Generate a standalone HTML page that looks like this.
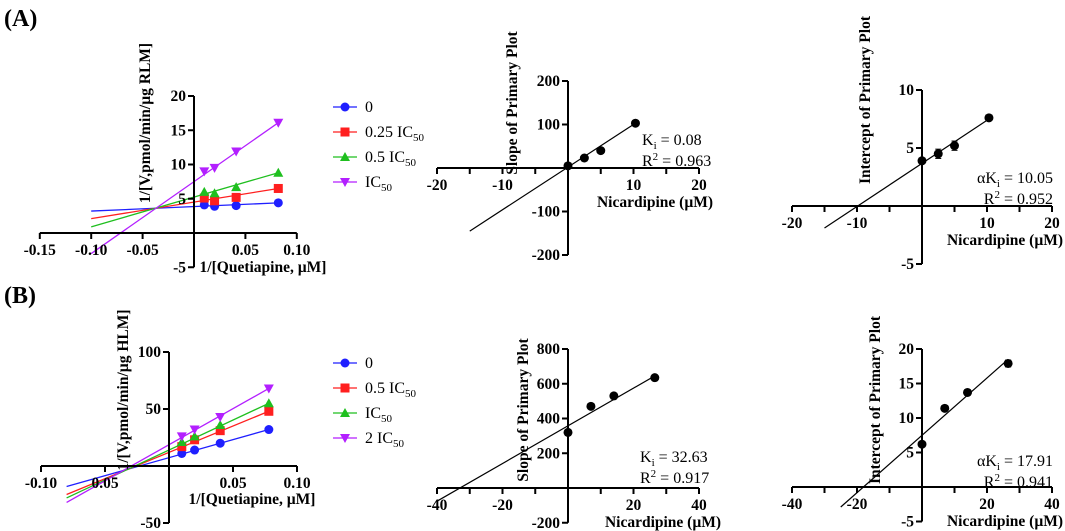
<!DOCTYPE html>
<html><head><meta charset="utf-8"><style>
body{margin:0;background:#fff;}
svg{display:block;font-family:"Liberation Serif",serif;}
</style></head><body>
<svg id="fig" width="1065" height="531" viewBox="0 0 1065 531">
<text x="4" y="26" font-size="24" font-weight="bold">(A)</text>
<text x="4" y="303" font-size="24" font-weight="bold">(B)</text>
</svg>
<script>
// Panel A1 data
const a1X = [0.01, 0.02, 0.041, 0.082];
const a1Blue = [4.1, 3.9, 4.0, 4.4];
const a1Red = [5.1, 4.7, 5.2, 6.5];
const a1Green = [6.0, 5.8, 6.7, 8.8];
const a1Purple = [9.0, 9.5, 11.9, 16.1];
const a1LineStartX = -0.1;
const a1LineStartY = [3.2, 2.1, 0.9, -3.0];
const a1Legend = ["0", "0.25 IC", "0.5 IC", "IC"];
const a1XTicks = [-0.15, -0.10, -0.05, 0.05, 0.10];
const a1XTickLabels = ["-0.15", "-0.10", "-0.05", "0.05", "0.10"];
const a1YTicks = [-5, 5, 10, 15, 20];
// Panel B1 data
const b1X = [0.01, 0.02, 0.04, 0.078];
const b1Blue = [11, 14, 20, 32];
const b1Red = [17, 23, 31, 48];
const b1Green = [21, 26, 36, 55];
const b1Purple = [26, 32, 43, 68];
const b1LineStartX = -0.08;
const b1LineStartY = [-18, -25, -28, -32];
const b1Legend = ["0", "0.5 IC", "IC", "2 IC"];
const b1XTicks = [-0.10, -0.05, 0.05, 0.10];
const b1XTickLabels = ["-0.10", "0.05", "0.05", "0.10"];
const b1YTicks = [-50, 50, 100];
// Secondary plots
const a2X = [0, 2.5, 5, 10.3];
const a2Y = [5, 23, 40, 103];
const a2Line = [-15, -145, 10.3, 103];
const a3X = [0, 2.5, 5, 10.3];
const a3Y = [3.9, 4.5, 5.2, 7.6];
const a3Err = [0, 0.4, 0.4, 0];
const a3Line = [-15, -1.9, 10.3, 7.5];
const b2X = [0, 7, 14, 26.5];
const b2Y = [320, 470, 530, 635];
const b2Line = [-40, -76, 26.5, 645];
const b3X = [0, 7, 14, 26.5];
const b3Y = [6.2, 11.4, 13.7, 17.9];
const b3Err = [0, 0, 0, 0.5];
const b3Line = [-25, -2.9, 26.5, 18.5];

const svg = document.getElementById('fig');
const NS = 'http://www.w3.org/2000/svg';
function mk(tag, attrs, parent){const e=document.createElementNS(NS,tag);for(const k in attrs)e.setAttribute(k,attrs[k]);(parent||svg).appendChild(e);return e;}
function scale(d0,d1,p0,p1){return v=>p0+(v-d0)*(p1-p0)/(d1-d0);}

function axes(g,sx,sy,xmin,xmax,xstep,ymin,ymax,ystep,xLab,xLabVals,yLab,yLabVals){
  const ax=mk('line',{x1:sx(xmin),x2:sx(xmax),y1:sy(0),y2:sy(0),stroke:'#000','stroke-width':2},g);
  
  const ay=mk('line',{x1:sx(0),x2:sx(0),y1:sy(ymin),y2:sy(ymax),stroke:'#000','stroke-width':2},g);
  
  for(let v=xmin;v<=xmax+1e-9;v+=xstep){mk('line',{x1:sx(v),x2:sx(v),y1:sy(0),y2:sy(0)+6,stroke:'#000','stroke-width':2},g);}
  for(let v=ymin;v<=ymax+1e-9;v+=ystep){mk('line',{x1:sx(0)-6,x2:sx(0),y1:sy(v),y2:sy(v),stroke:'#000','stroke-width':2},g);}
  xLab.forEach((v,i)=>{const t=mk('text',{x:sx(v),y:sy(0)+22,'font-size':15.5,'font-weight':'bold','text-anchor':'middle'},g);t.textContent=xLabVals[i];});
  yLab.forEach((v,i)=>{const t=mk('text',{x:sx(0)-8,y:sy(v)+5,'font-size':15.5,'font-weight':'bold','text-anchor':'end'},g);t.textContent=yLabVals[i];});
}
function marker(g,type,x,y,c){
  if(type==0)return mk('circle',{cx:x,cy:y,r:4.5,fill:c},g);
  if(type==1)return mk('rect',{x:x-4.5,y:y-4.5,width:9,height:9,fill:c},g);
  if(type==2)return mk('polygon',{points:`${x},${y-5} ${x-5},${y+4} ${x+5},${y+4}`,fill:c},g);
  return mk('polygon',{points:`${x},${y+5} ${x-5},${y-4} ${x+5},${y-4}`,fill:c},g);
}
function title(g,text,x,y,rot){const t=mk('text',{x:x,y:y,'font-size':15.5,'font-weight':'bold','text-anchor':'middle'},g);if(rot)t.setAttribute('transform',`rotate(-90 ${x} ${y})`);t.innerHTML=text;return t;}
const colors=['#1f1fff','#ff1f1f','#1fbf1f','#b31fff'];

function primary(name,X,series,lsx,lsy,sx,sy,legend,ly){
  const g=mk('g',{});
  series.forEach((s,i)=>{
    const last=X.length-1;
    const ln=mk('line',{x1:sx(lsx),y1:sy(lsy[i]),x2:sx(X[last]),y2:sy(s[last]),stroke:colors[i],'stroke-width':1.3},g);
    
    X.forEach((x,j)=>{const m=marker(g,i,sx(x),sy(s[j]),colors[i]);});
    const lg=mk('g',{},g);
    const y=ly+i*25;
    mk('line',{x1:333,x2:357,y1:y,y2:y,stroke:colors[i],'stroke-width':1.3},lg);
    marker(lg,i,345,y,colors[i]);
    const t=mk('text',{x:365,y:y+5,'font-size':16},lg);
    t.innerHTML=legend[i]+(legend[i].indexOf('IC')>=0?'<tspan font-size="11" dy="4">50</tspan>':'');
  });
  return g;
}
function secondary(name,X,Y,E,line,sx,sy){
  const g=mk('g',{});
  const ln=mk('line',{x1:sx(line[0]),y1:sy(line[1]),x2:sx(line[2]),y2:sy(line[3]),stroke:'#000','stroke-width':1.2},g);
  
  X.forEach((x,i)=>{
    if(E&&E[i]>0){mk('line',{x1:sx(x),x2:sx(x),y1:sy(Y[i]-E[i]),y2:sy(Y[i]+E[i]),stroke:'#000','stroke-width':1.2},g);
      mk('line',{x1:sx(x)-3,x2:sx(x)+3,y1:sy(Y[i]-E[i]),y2:sy(Y[i]-E[i]),stroke:'#000'},g);
      mk('line',{x1:sx(x)-3,x2:sx(x)+3,y1:sy(Y[i]+E[i]),y2:sy(Y[i]+E[i]),stroke:'#000'},g);}
    const c=mk('circle',{cx:sx(x),cy:sy(Y[i]),r:4.5,fill:'#000'},g);
    
  });
  return g;
}
function annot(g,a,b,x,y,anchor){
  const t1=mk('text',{x:x,y:y,'font-size':16,'text-anchor':anchor},g);t1.innerHTML=a;
  
  const t2=mk('text',{x:x,y:y+21,'font-size':16,'text-anchor':anchor},g);t2.innerHTML=b;
  
}

// A1
{const sx=scale(0,0.05,194,245.4), sy=scale(0,20,233,96);
 const g=primary('lineweaver-burk-rlm',a1X,[a1Blue,a1Red,a1Green,a1Purple],a1LineStartX,a1LineStartY,sx,sy,a1Legend,107);
 axes(g,sx,sy,-0.15,0.10,0.05,-5,20,5,a1XTicks,a1XTickLabels,a1YTicks,a1YTicks.map(String));
 title(g,'1/[Quetiapine, µM]',263,272,false);
 title(g,'1/[V,pmol/min/µg RLM]',150,123,true);}
// B1
{const sx=scale(0,0.05,169,233), sy=scale(0,100,466,352);
 const g=primary('lineweaver-burk-hlm',b1X,[b1Blue,b1Red,b1Green,b1Purple],b1LineStartX,b1LineStartY,sx,sy,b1Legend,363);
 axes(g,sx,sy,-0.10,0.10,0.05,-50,100,50,b1XTicks,b1XTickLabels,b1YTicks,b1YTicks.map(String));
 title(g,'1/[Quetiapine, µM]',252,504,false);
 title(g,'1/[V,pmol/min/µg HLM]',128,390,true);}
// A2
{const sx=scale(0,20,568,699), sy=scale(0,200,168,81);
 const g=secondary('slope-plot-rlm',a2X,a2Y,null,a2Line,sx,sy);
 axes(g,sx,sy,-20,20,5,-200,200,100,[-20,-10,10,20],['-20','-10','10','20'],[-200,-100,100,200],['-200','-100','100','200']);
 title(g,'Nicardipine (µM)',655,207,false);
 title(g,'Slope of Primary Plot',517,103,true);
 annot(g,'K<tspan font-size="11" dy="4">i</tspan><tspan dy="-4"> = 0.08</tspan>','R<tspan font-size="11" dy="-6">2</tspan><tspan dy="6"> = 0.963</tspan>',642,145,'start');}
// A3
{const sx=scale(0,20,922,1052), sy=scale(0,10,206,90);
 const g=secondary('intercept-plot-rlm',a3X,a3Y,a3Err,a3Line,sx,sy);
 axes(g,sx,sy,-20,20,5,-5,10,5,[-20,-10,10,20],['-20','-10','10','20'],[-5,5,10],['-5','5','10']);
 title(g,'Nicardipine (µM)',1005,245,false);
 title(g,'Intercept of Primary Plot',870,100,true);
 annot(g,'αK<tspan font-size="11" dy="4">i</tspan><tspan dy="-4"> = 10.05</tspan>','R<tspan font-size="11" dy="-6">2</tspan><tspan dy="6"> = 0.952</tspan>',1053,183,'end');}
// B2
{const sx=scale(0,40,568,699), sy=scale(0,800,488,349);
 const g=secondary('slope-plot-hlm',b2X,b2Y,null,b2Line,sx,sy);
 axes(g,sx,sy,-40,40,10,-200,800,200,[-40,-20,20,40],['-40','-20','20','40'],[-200,200,400,600,800],['-200','200','400','600','800']);
 title(g,'Nicardipine (µM)',663,527,false);
 title(g,'Slope of Primary Plot',528,410,true);
 annot(g,'K<tspan font-size="11" dy="4">i</tspan><tspan dy="-4"> = 32.63</tspan>','R<tspan font-size="11" dy="-6">2</tspan><tspan dy="6"> = 0.917</tspan>',640,462,'start');}
// B3
{const sx=scale(0,40,922,1052), sy=scale(0,20,487,349);
 const g=secondary('intercept-plot-hlm',b3X,b3Y,b3Err,b3Line,sx,sy);
 axes(g,sx,sy,-40,40,10,-5,20,5,[-40,-20,20,40],['-40','-20','20','40'],[-5,5,10,15,20],['-5','5','10','15','20']);
 title(g,'Nicardipine (µM)',1005,526,false);
 title(g,'Intercept of Primary Plot',880,400,true);
 annot(g,'αK<tspan font-size="11" dy="4">i</tspan><tspan dy="-4"> = 17.91</tspan>','R<tspan font-size="11" dy="-6">2</tspan><tspan dy="6"> = 0.941</tspan>',1053,466,'end');}
</script>
</body></html>
